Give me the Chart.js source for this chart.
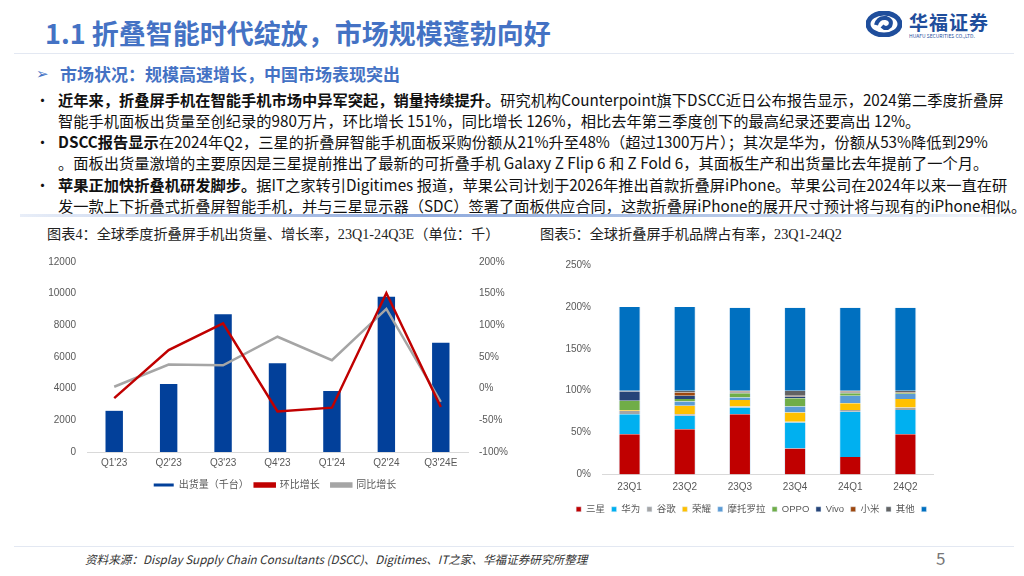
<!DOCTYPE html>
<html>
<head>
<meta charset="utf-8">
<script src="https://cdn.jsdelivr.net/npm/chart.js@4.4.1/dist/chart.umd.min.js"></script>
<style>
  body { margin: 0; width: 1024px; height: 576px; background: #fff; position: relative; overflow: hidden;
         font-family: "Noto Sans CJK SC", "Noto Sans", sans-serif; }
  .abs { position: absolute; white-space: nowrap; }
  .title { left: 45px; top: 13px; font-size: 27px; font-weight: bold; color: #4472C4; }
  .hline { height: 1px; background: #E3E8F2; }
  .sec { left: 60px; top: 61px; font-size: 17px; font-weight: bold; color: #4472C4; }
  .arrow { left: 36px; top: 62px; font-size: 15px; color: #4472C4; }
  .txt { left: 58px; font-size: 15.25px; color: #111; line-height: 21px; }
  .dot { left: 35px; font-size: 15px; color: #111; }
  .ctitle { font-size: 14.2px; color: #222; font-family: "Liberation Serif", "Noto Sans CJK SC", serif; }
  .src { left: 85px; top: 551px; font-size: 11.6px; font-style: italic; color: #333; }
  .page { left: 936px; top: 545px; font-size: 17px; color: #777; }
</style>
</head>
<body>
<div class="abs title">1.1 折叠智能时代绽放，市场规模蓬勃向好</div>
<svg class="abs" style="left:866px;top:11px" width="36" height="26" viewBox="0 0 36 26">
  <ellipse cx="18" cy="13" rx="16" ry="11" fill="none" stroke="#1F4E9C" stroke-width="5"/>
  <path d="M10 14 Q12 6 20 7 Q27 9 24 15 Q20 19 16 15" fill="none" stroke="#1F4E9C" stroke-width="4"/>
</svg>
<div class="abs" style="left:909px;top:8px;font-size:19px;font-weight:bold;color:#1F4E9C;letter-spacing:1px">华福证券</div>
<div class="abs" style="left:909px;top:32px;font-size:5px;color:#1F4E9C">HUAFU SECURITIES CO.,LTD.</div>
<div class="abs hline" style="left:14px;top:53px;width:1000px"></div>

<div class="abs arrow">➢</div>
<div class="abs sec">市场状况：规模高速增长，中国市场表现突出</div>

<div class="abs dot" style="top:89px">•</div>
<div class="abs txt" style="top:89px"><b>近年来，折叠屏手机在智能手机市场中异军突起，销量持续提升。</b>研究机构Counterpoint旗下DSCC近日公布报告显示，2024第二季度折叠屏</div>
<div class="abs txt" style="top:110px">智能手机面板出货量至创纪录的980万片，环比增长 151%，同比增长 126%，相比去年第三季度创下的最高纪录还要高出 12%。</div>
<div class="abs dot" style="top:131px">•</div>
<div class="abs txt" style="top:131px"><b>DSCC报告显示</b>在2024年Q2，三星的折叠屏智能手机面板采购份额从21%升至48%（超过1300万片）；其次是华为，份额从53%降低到29%</div>
<div class="abs txt" style="top:152px">。面板出货量激增的主要原因是三星提前推出了最新的可折叠手机 Galaxy Z Flip 6 和 Z Fold 6，其面板生产和出货量比去年提前了一个月。</div>
<div class="abs dot" style="top:174px">•</div>
<div class="abs txt" style="top:174px"><b>苹果正加快折叠机研发脚步。</b>据IT之家转引Digitimes 报道，苹果公司计划于2026年推出首款折叠屏iPhone。苹果公司在2024年以来一直在研</div>
<div class="abs txt" style="top:195px">发一款上下折叠式折叠屏智能手机，并与三星显示器（SDC）签署了面板供应合同，这款折叠屏iPhone的展开尺寸预计将与现有的iPhone相似。</div>
<div class="abs" style="left:20px;top:214px;width:990px;height:3px;background:linear-gradient(to right, rgba(143,170,220,0.2), #8FAADC 40%, #B4C7E7 70%, rgba(180,199,231,0.1))"></div>

<div class="abs ctitle" style="left:47px;top:223px">图表4：全球季度折叠屏手机出货量、增长率，23Q1-24Q3E（单位：千）</div>
<div class="abs ctitle" style="left:540px;top:223px">图表5：全球折叠屏手机品牌占有率，23Q1-24Q2</div>

<div class="abs" style="left:40px;top:250px;width:470px;height:250px"><canvas id="c1"></canvas></div>
<div class="abs" style="left:520px;top:250px;width:470px;height:280px"><canvas id="c2"></canvas></div>

<div class="abs hline" style="left:14px;top:546px;width:1000px"></div>
<div class="abs src">资料来源：Display Supply Chain Consultants (DSCC)、Digitimes、IT之家、华福证券研究所整理</div>
<div class="abs page">5</div>

<script>
// chart 4: shipments and growth
const quarters = ["Q1'23", "Q2'23", "Q3'23", "Q4'23", "Q1'24", "Q2'24", "Q3'24E"];
const shipments = [2600, 4300, 8700, 5600, 3850, 9800, 6900];
const qoqGrowth = [-15, 61, 103, -36, -30, 151, -29];
const yoyGrowth = [3, 38, 37, 82, 45, 126, -21];

// chart 5: brand share
const periods = ['23Q1', '23Q2', '23Q3', '23Q4', '24Q1', '24Q2'];
const brands = ['三星', '华为', '谷歌', '荣耀', '摩托罗拉', 'OPPO', 'Vivo', '小米', '其他', ''];
const brandColors = ['#C00000', '#00B0F0', '#A5A5A5', '#FFC000', '#5B9BD5', '#70AD47', '#264478', '#9E480E', '#636363', '#0070C0'];
const shares = [
    [48, 54, 72, 31, 21, 48],
    [24, 16, 8, 31, 54, 29],
    [4, 2, 1, 1, 2, 3],
    [1, 10, 8, 11, 8, 10],
    [0, 5, 3, 7, 9, 6],
    [11, 3, 5, 10, 3, 1],
    [11, 4, 1, 2, 1, 0],
    [0, 4, 1, 1, 1, 1],
    [1, 2, 1, 6, 1, 2],
    [100, 100, 99, 99, 99, 99]
];

const tickFont = { family: 'Liberation Sans, Noto Sans CJK SC', size: 10 };
const tickColor = '#595959';
const defaultLabels = Chart.defaults.plugins.legend.labels.generateLabels;

new Chart(document.getElementById('c1'), {
    data: {
        labels: quarters,
        datasets: [{
            type: 'bar',
            label: '出货量（千台）',
            data: shipments,
            backgroundColor: '#02409A',
            borderColor: '#02409A',
            yAxisID: 'y',
            order: 2,
            barPercentage: 0.32,
            categoryPercentage: 1
        }, {
            type: 'line',
            label: '环比增长',
            data: qoqGrowth,
            borderColor: '#C00000',
            backgroundColor: '#C00000',
            borderWidth: 2.5,
            pointRadius: 0,
            tension: 0,
            yAxisID: 'y1',
            order: 0
        }, {
            type: 'line',
            label: '同比增长',
            data: yoyGrowth,
            borderColor: '#A5A5A5',
            backgroundColor: '#A5A5A5',
            borderWidth: 2.5,
            pointRadius: 0,
            tension: 0,
            yAxisID: 'y1',
            order: 1
        }]
    },
    options: {
        responsive: true,
        maintainAspectRatio: false,
        animation: false,
        layout: { padding: { top: 12, bottom: 0 } },
        plugins: {
            legend: {
                position: 'bottom',
                labels: {
                    boxWidth: 20,
                    boxHeight: 3,
                    padding: 6,
                    color: tickColor,
                    font: tickFont,
                    generateLabels: (chart) => defaultLabels(chart).map((item) => {
                        if (item.datasetIndex === 1) item.text += '  ';
                        return item;
                    }),
                    sort: (a, b) => a.datasetIndex - b.datasetIndex
                }
            },
            tooltip: { enabled: false }
        },
        scales: {
            x: {
                grid: { display: false, drawTicks: false },
                border: { color: '#D9D9D9' },
                ticks: { color: tickColor, font: tickFont, padding: 5 }
            },
            y: {
                position: 'left',
                min: 0,
                max: 12000,
                ticks: { stepSize: 2000, color: tickColor, font: tickFont, callback: (v) => String(v) },
                grid: { display: false },
                border: { display: false },
                afterFit: (axis) => { axis.width = 47; }
            },
            y1: {
                position: 'right',
                min: -100,
                max: 200,
                ticks: { stepSize: 50, color: tickColor, font: tickFont, callback: (v) => v + '%' },
                grid: { display: false },
                border: { display: false },
                afterFit: (axis) => { axis.width = 42; }
            }
        }
    }
});

new Chart(document.getElementById('c2'), {
    type: 'bar',
    data: {
        labels: periods,
        datasets: brands.map((name, i) => ({
            label: name,
            data: shares[i],
            backgroundColor: brandColors[i],
            borderColor: 'rgba(222,235,247,0.9)',
            borderWidth: { left: 1, right: 1 },
            barPercentage: 0.4,
            categoryPercentage: 1
        }))
    },
    options: {
        responsive: true,
        maintainAspectRatio: false,
        animation: false,
        layout: { padding: { top: 15, bottom: 6 } },
        plugins: {
            legend: {
                position: 'bottom',
                labels: {
                    boxWidth: 5,
                    boxHeight: 5,
                    padding: 4,
                    color: tickColor,
                    font: { family: tickFont.family, size: 9.5 },
                    generateLabels: (chart) => defaultLabels(chart).map((item) => {
                        item.text += ' ';
                        return item;
                    })
                }
            },
            tooltip: { enabled: false }
        },
        scales: {
            x: {
                stacked: true,
                grid: { display: false, drawTicks: false },
                border: { color: '#D9D9D9' },
                ticks: { color: tickColor, font: tickFont, padding: 7 }
            },
            y: {
                stacked: true,
                min: 0,
                max: 250,
                ticks: { stepSize: 50, color: tickColor, font: tickFont, callback: (v) => v + '%' },
                grid: { display: false },
                border: { display: false },
                afterFit: (axis) => { axis.width = 82; }
            },
            yr: {
                position: 'right',
                display: true,
                ticks: { display: false },
                grid: { display: false },
                border: { display: false },
                afterFit: (axis) => { axis.width = 57; }
            }
        }
    }
});
</script>
</body>
</html>
